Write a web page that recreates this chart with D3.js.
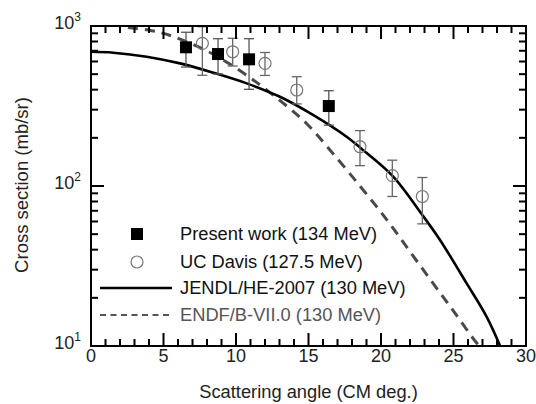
<!DOCTYPE html>
<html><head><meta charset="utf-8">
<script src="https://cdn.jsdelivr.net/npm/d3@7"></script>
<style>body{margin:0;background:#fff}svg{display:block}text{font-family:"Liberation Sans",Arial,sans-serif}</style>
</head><body><svg id="c" width="536" height="404"></svg>
<script>
const presentAngle = [6.55, 8.76, 10.9, 16.4];
const presentValue = [736, 668, 619, 316];
const presentLow = [554, 501, 402, 240];
const presentHigh = [914, 833, 833, 394];

const davisAngle = [7.68, 9.77, 12.0, 14.19, 18.55, 20.78, 22.85];
const davisValue = [779, 690, 584, 398, 176, 116, 86];
const davisLow = [492, 562, 491, 326, 134, 86, 58];
const davisHigh = [990, 838, 683, 482, 222, 145, 113];

const jendlAngle = [0, 1.54, 3.84, 6.14, 8.43, 10.74, 13.03, 15.31, 17.63, 18.55, 20.78, 22.85, 24.07, 25.91, 27.29, 28.3];
const jendlValue = [690, 681, 643, 584, 511, 438, 361, 278, 203, 174, 116, 65.9, 46, 24.6, 15.2, 9.6];

const endfAngle = [1.5, 2.07, 4.19, 5.57, 7.86, 9.12, 11.19, 13.5, 14.88, 16.48, 18.55, 20.39, 22.0, 23.61, 24.99, 26.37, 26.9];
const endfValue = [1080, 1000, 935, 866, 708, 613, 460, 316, 245, 168, 100, 61.7, 38.9, 24.5, 16.6, 11.1, 9.7];

const xTicks = [0, 5, 10, 15, 20, 25, 30];
const yTickExp = [1, 2, 3];
const legendLabels = ["Present work (134 MeV)", "UC Davis (127.5 MeV)", "JENDL/HE-2007 (130 MeV)", "ENDF/B-VII.0 (130 MeV)"];
const xTitle = "Scattering angle (CM deg.)";
const yTitle = "Cross section (mb/sr)";

const svg = d3.select("#c");
const L = 91, R = 526, T = 26, B = 346;
const x = d3.scaleLinear().domain([0, 30]).range([L, R]);
const y = d3.scaleLog().domain([10, 1000]).range([B, T]);

svg.append("defs").append("clipPath").attr("id", "clip")
  .append("rect").attr("x", L).attr("y", T).attr("width", R - L).attr("height", B - T);

const line = (xs, ys) => d3.line().curve(d3.curveCatmullRom.alpha(0.5))
  .x((d, i) => x(xs[i])).y((d, i) => y(ys[i]))(xs);
const g = svg.append("g").attr("clip-path", "url(#clip)");
g.append("path").attr("d", line(endfAngle, endfValue)).attr("fill", "none")
  .attr("stroke", "#4a4a4a").attr("stroke-width", 3).attr("stroke-dasharray", "10,7");
g.append("path").attr("d", line(jendlAngle, jendlValue)).attr("fill", "none")
  .attr("stroke", "#000").attr("stroke-width", 2.6);

davisAngle.forEach((a, i) => {
  const cx = x(a);
  g.append("line").attr("x1", cx).attr("x2", cx).attr("y1", y(davisLow[i])).attr("y2", y(davisHigh[i])).attr("stroke", "#666").attr("stroke-width", 1.3);
  [davisLow[i], davisHigh[i]].forEach(v => g.append("line").attr("x1", cx - 5).attr("x2", cx + 5).attr("y1", y(v)).attr("y2", y(v)).attr("stroke", "#666").attr("stroke-width", 1.3));
  g.append("circle").attr("cx", cx).attr("cy", y(davisValue[i])).attr("r", 6).attr("fill", "none").attr("stroke", "#777").attr("stroke-width", 1.2);
});
presentAngle.forEach((a, i) => {
  const cx = x(a);
  g.append("line").attr("x1", cx).attr("x2", cx).attr("y1", y(presentLow[i])).attr("y2", y(presentHigh[i])).attr("stroke", "#555").attr("stroke-width", 1.3);
  [presentLow[i], presentHigh[i]].forEach(v => g.append("line").attr("x1", cx - 5).attr("x2", cx + 5).attr("y1", y(v)).attr("y2", y(v)).attr("stroke", "#555").attr("stroke-width", 1.3));
  g.append("rect").attr("x", cx - 6).attr("y", y(presentValue[i]) - 6).attr("width", 12).attr("height", 12).attr("fill", "#000");
});

const tk = svg.append("g").attr("stroke", "#000");
d3.range(0, 31, 1).forEach(v => {
  const major = xTicks.includes(v);
  const len = major ? 13 : 7;
  tk.append("line").attr("x1", x(v)).attr("x2", x(v)).attr("y1", B).attr("y2", B - len).attr("stroke-width", 2);
  tk.append("line").attr("x1", x(v)).attr("x2", x(v)).attr("y1", T).attr("y2", T + len).attr("stroke-width", 2);
});
yTickExp.forEach(e => {
  const base = Math.pow(10, e);
  const vals = e < 3 ? d3.range(1, 10).map(k => k * base) : [base];
  vals.forEach((v, k) => {
    const len = k === 0 ? 13 : 7;
    tk.append("line").attr("x1", L).attr("x2", L + len).attr("y1", y(v)).attr("y2", y(v)).attr("stroke-width", 2);
    tk.append("line").attr("x1", R).attr("x2", R - len).attr("y1", y(v)).attr("y2", y(v)).attr("stroke-width", 2);
  });
});
svg.append("rect").attr("x", L).attr("y", T).attr("width", R - L).attr("height", B - T)
  .attr("fill", "none").attr("stroke", "#000").attr("stroke-width", 2);

xTicks.forEach(v => svg.append("text").attr("x", x(v)).attr("y", 362).attr("text-anchor", "middle")
  .attr("font-size", 18).attr("fill", "#222").text(v));
yTickExp.forEach(e => {
  const t = svg.append("text").attr("x", 81).attr("y", y(Math.pow(10, e)) + 3).attr("text-anchor", "end")
    .attr("font-size", 18).attr("fill", "#222");
  t.append("tspan").text("10");
  t.append("tspan").attr("font-size", 12).attr("dy", -8).text(e);
});
svg.append("text").attr("x", (L + R) / 2).attr("y", 398).attr("text-anchor", "middle")
  .attr("font-size", 18.3).attr("fill", "#222").text(xTitle);
svg.append("text").attr("transform", "translate(28,185) rotate(-90)").attr("text-anchor", "middle")
  .attr("font-size", 18.5).attr("fill", "#222").text(yTitle);

const ly = [234, 262, 288, 315];
const lb = [240, 268, 294, 321];
const lg = svg.append("g");
lg.append("rect").attr("x", 131).attr("y", ly[0] - 6).attr("width", 12).attr("height", 12).attr("fill", "#000");
lg.append("circle").attr("cx", 137).attr("cy", ly[1]).attr("r", 6).attr("fill", "none").attr("stroke", "#777").attr("stroke-width", 1.2);
lg.append("line").attr("x1", 100).attr("x2", 172).attr("y1", ly[2]).attr("y2", ly[2]).attr("stroke", "#000").attr("stroke-width", 2.4);
lg.append("line").attr("x1", 100).attr("x2", 172).attr("y1", ly[3]).attr("y2", ly[3]).attr("stroke", "#555").attr("stroke-width", 1.8).attr("stroke-dasharray", "6,4.5");
legendLabels.forEach((s, i) => lg.append("text").attr("x", 180).attr("y", lb[i])
  .attr("font-size", 18.3).attr("fill", i === 3 ? "#555" : "#111").text(s));
</script></body></html>
